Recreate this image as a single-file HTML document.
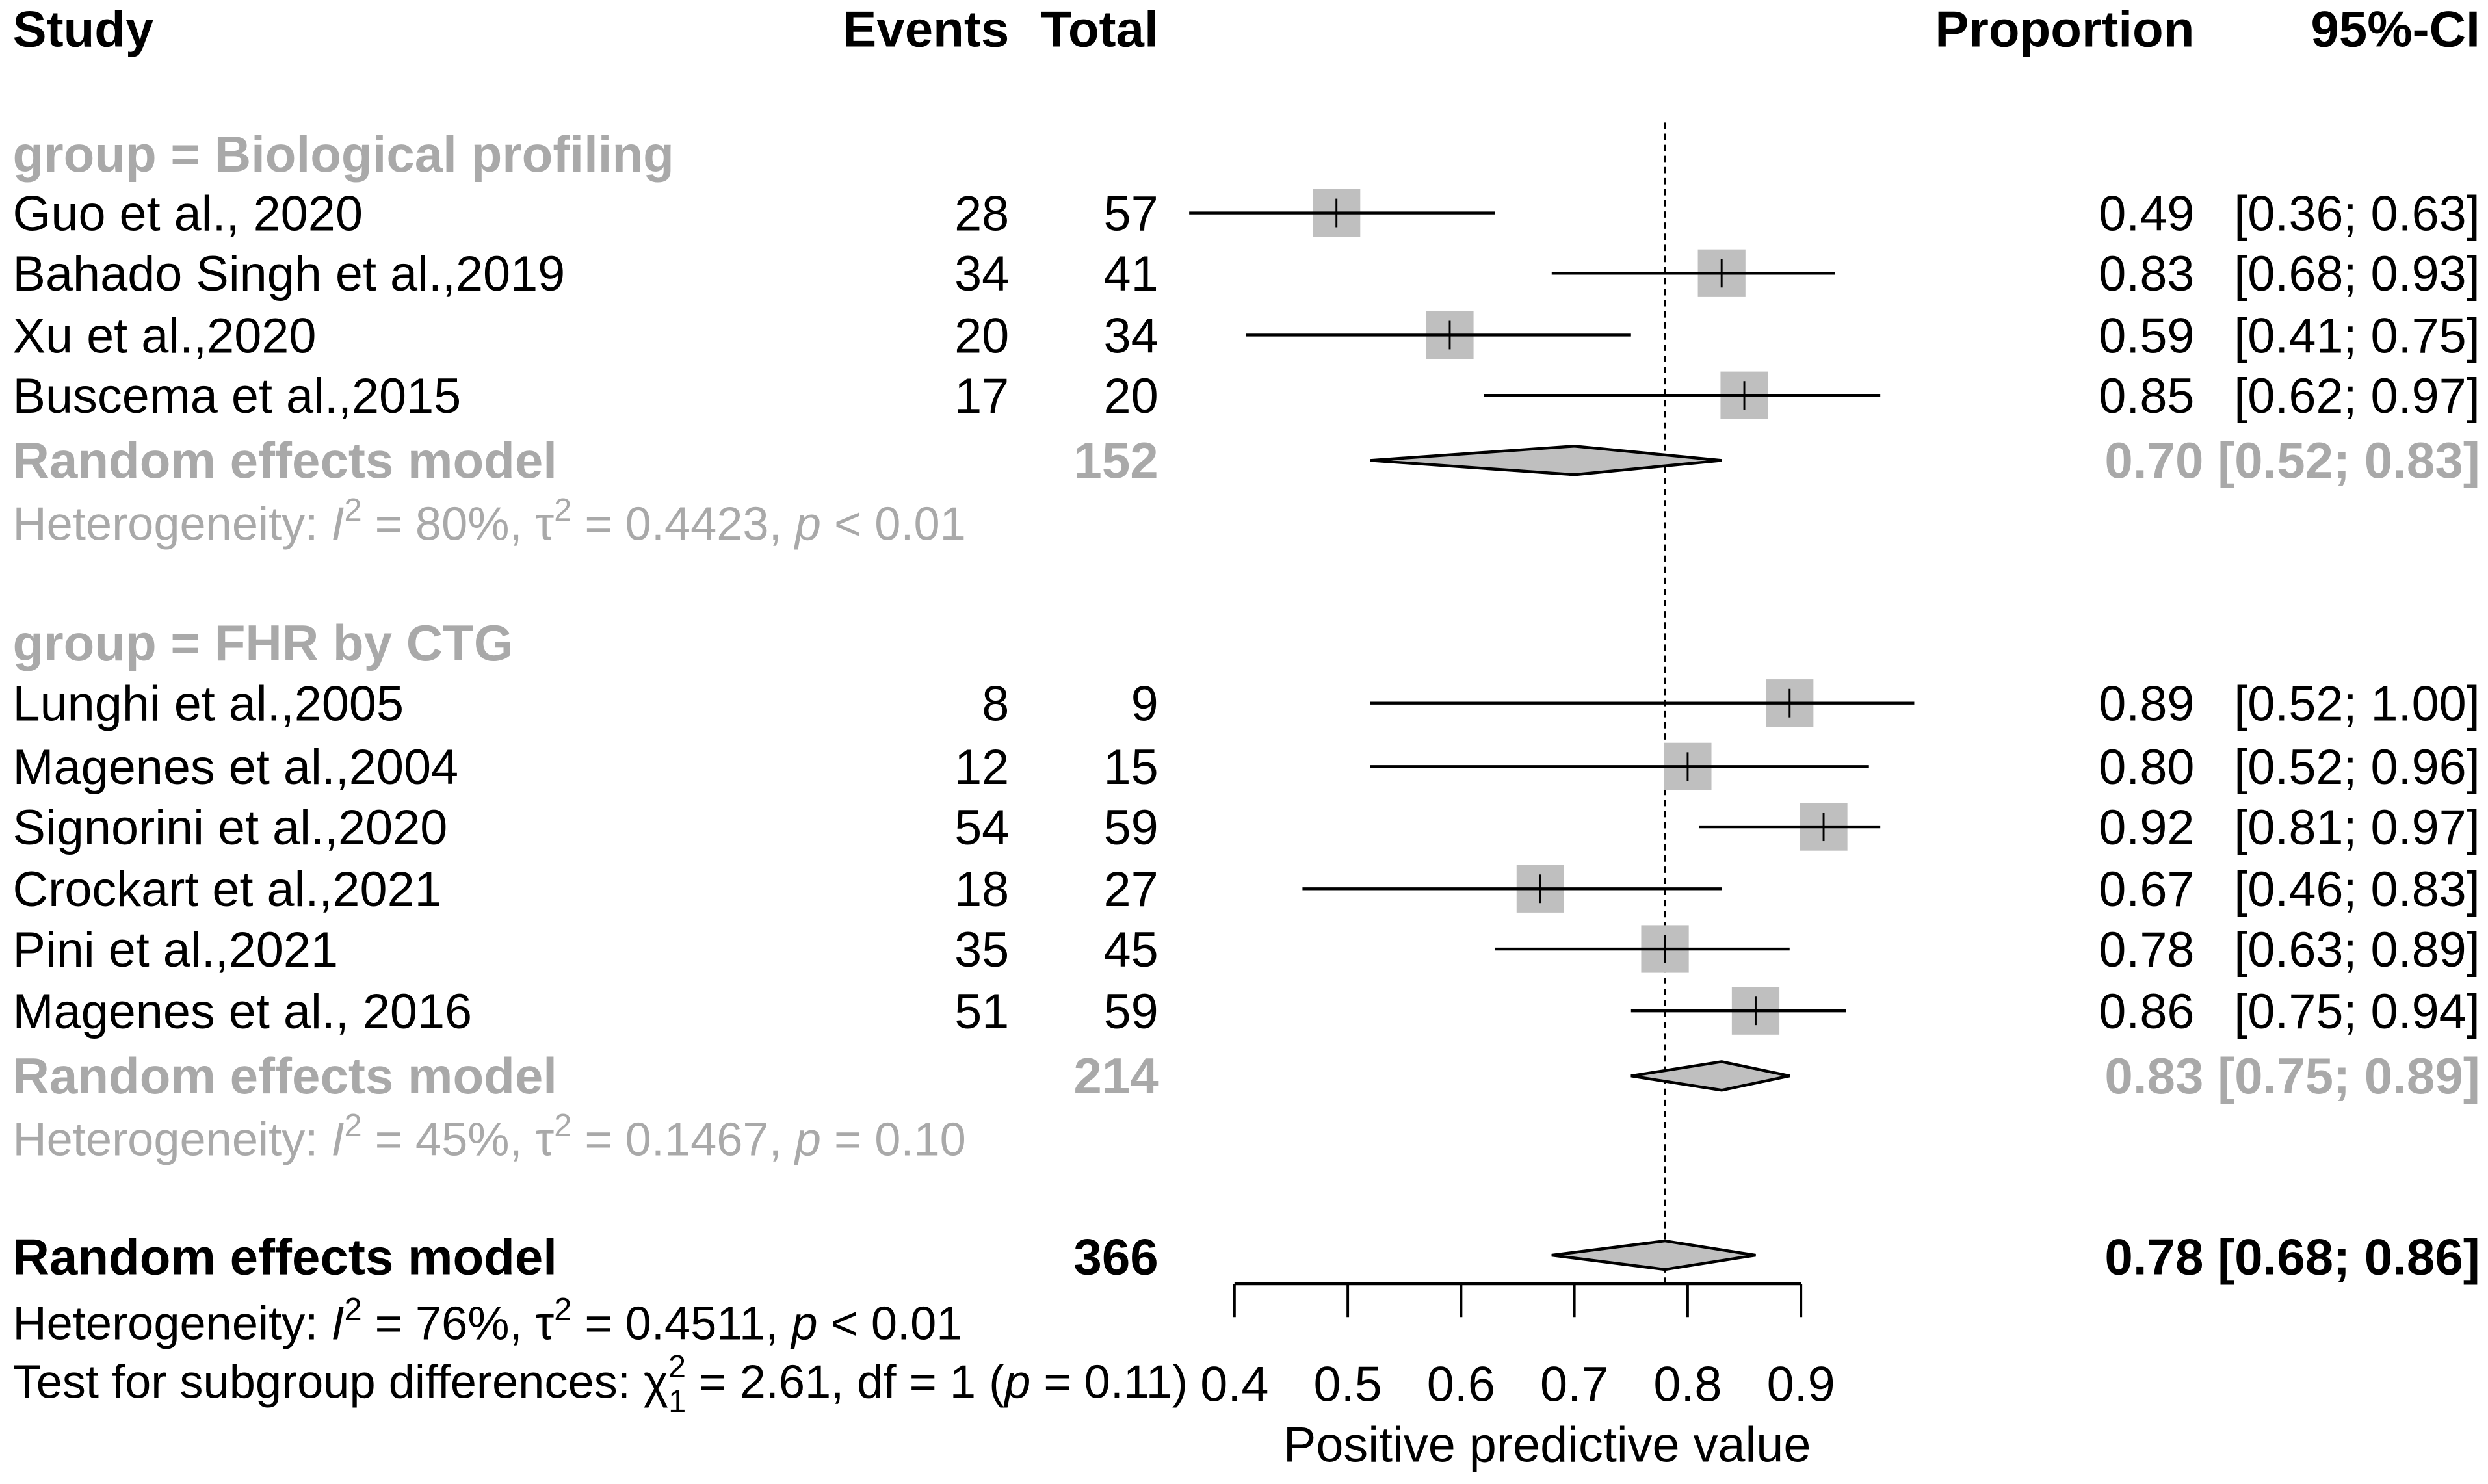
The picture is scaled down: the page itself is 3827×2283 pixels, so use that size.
<!DOCTYPE html>
<html><head><meta charset="utf-8"><style>
html,body{margin:0;padding:0;background:#fff}
svg{display:block}
text{font-family:"Liberation Sans",Arial,sans-serif;font-size:31px}
.b{font-weight:bold;font-size:32px}
.g{fill:#a9a9a9}
.h{font-size:29.6px}
</style></head><body>
<svg id="chart" width="3827" height="2283" viewBox="0 0 1568 935" xmlns="http://www.w3.org/2000/svg">
<g>
<text class="b" x="8" y="29">Study</text>
<text class="b" x="636" y="29" text-anchor="end">Events</text>
<text class="b" x="730" y="29" text-anchor="end">Total</text>
<text class="b" x="1383" y="29" text-anchor="end">Proportion</text>
<text class="b" x="1563" y="29" text-anchor="end">95%-CI</text>
</g>
<text class="b g" x="8" y="108">group = Biological profiling</text>
<text class="b g" x="8" y="416">group = FHR by CTG</text>
<text class="b g" x="8" y="301">Random effects model</text>
<text class="b g" x="730" y="301" text-anchor="end">152</text>
<text class="b g" x="1563" y="301" text-anchor="end" xml:space="preserve">0.70 [0.52; 0.83]</text>
<text class="g h" x="8" y="340">Heterogeneity: <tspan font-style="italic">I</tspan><tspan font-size="20" dy="-12">2</tspan><tspan dy="12"> = 80%, τ</tspan><tspan font-size="20" dy="-12">2</tspan><tspan dy="12"> = 0.4423, </tspan><tspan font-style="italic">p</tspan> &lt; 0.01</text>
<text class="b g" x="8" y="689">Random effects model</text>
<text class="b g" x="730" y="689" text-anchor="end">214</text>
<text class="b g" x="1563" y="689" text-anchor="end" xml:space="preserve">0.83 [0.75; 0.89]</text>
<text class="g h" x="8" y="728">Heterogeneity: <tspan font-style="italic">I</tspan><tspan font-size="20" dy="-12">2</tspan><tspan dy="12"> = 45%, τ</tspan><tspan font-size="20" dy="-12">2</tspan><tspan dy="12"> = 0.1467, </tspan><tspan font-style="italic">p</tspan> = 0.10</text>
<text class="b" x="8" y="803">Random effects model</text>
<text class="b" x="730" y="803" text-anchor="end">366</text>
<text class="b" x="1563" y="803" text-anchor="end" xml:space="preserve">0.78 [0.68; 0.86]</text>
<text class="h" x="8" y="844">Heterogeneity: <tspan font-style="italic">I</tspan><tspan font-size="20" dy="-12">2</tspan><tspan dy="12"> = 76%, τ</tspan><tspan font-size="20" dy="-12">2</tspan><tspan dy="12"> = 0.4511, </tspan><tspan font-style="italic">p</tspan> &lt; 0.01</text>
<text class="h" x="8" y="881">Test for subgroup differences: χ<tspan font-size="20" dy="-13">2</tspan><tspan font-size="20" dx="-11" dy="22">1</tspan><tspan dy="-9"> = 2.61, df = 1 (</tspan><tspan font-style="italic">p</tspan> = 0.11)</text>
<g id="marks"></g>
<text x="975" y="921" text-anchor="middle">Positive predictive value</text>
</svg>
<script>
const studies = ["Guo et al., 2020","Bahado Singh et al.,2019","Xu et al.,2020","Buscema et al.,2015","Lunghi et al.,2005","Magenes et al.,2004","Signorini et al.,2020","Crockart et al.,2021","Pini et al.,2021","Magenes et al., 2016"];
const events = [28,34,20,17,8,12,54,18,35,51];
const totals = [57,41,34,20,9,15,59,27,45,59];
const est = [0.49,0.83,0.59,0.85,0.89,0.80,0.92,0.67,0.78,0.86];
const lower = [0.36,0.68,0.41,0.62,0.52,0.52,0.81,0.46,0.63,0.75];
const upper = [0.63,0.93,0.75,0.97,1.00,0.96,0.97,0.83,0.89,0.94];
const pooledEst = [0.70,0.83,0.78];
const pooledLow = [0.52,0.75,0.68];
const pooledUp = [0.83,0.89,0.86];
const ticks = [0.4,0.5,0.6,0.7,0.8,0.9];
const tickLabels = ["0.4","0.5","0.6","0.7","0.8","0.9"];

const NS = "http://www.w3.org/2000/svg";
const g = document.getElementById('marks');
const x = v => 778 + (v - 0.4) * 714;
const rowY = [134,172,211,249,443,483,521,560,598,637];
const poolY = [290,678,791];
function el(tag, attrs){const e=document.createElementNS(NS,tag);for(const k in attrs)e.setAttribute(k,attrs[k]);g.appendChild(e);return e;}
const f2 = v => v.toFixed(2);

const ref = el('line',{x1:x(pooledEst[2]),x2:x(pooledEst[2]),y1:77,y2:808,stroke:'#000','stroke-width':1.3,'stroke-dasharray':'4 3'});



studies.forEach((s,i)=>{
  const y=rowY[i];
  const t=el('text',{x:8,y:y+11}); t.textContent=s;
  
  
  const e=el('text',{x:636,y:y+11,'text-anchor':'end'}); e.textContent=events[i];
  
  
  const n=el('text',{x:730,y:y+11,'text-anchor':'end'}); n.textContent=totals[i];
  
  
  const p=el('text',{x:1383,y:y+11,'text-anchor':'end'}); p.textContent=f2(est[i]);
  
  
  const c=el('text',{x:1563,y:y+11,'text-anchor':'end'}); c.textContent='['+f2(lower[i])+'; '+f2(upper[i])+']';
  
  
  const sz = 30;
  const sq=el('rect',{x:x(est[i])-sz/2,y:y-sz/2,width:sz,height:sz,fill:'#bfbfbf'});
  
  
  const ln=el('line',{x1:x(lower[i]),x2:x(upper[i]),y1:y,y2:y,stroke:'#000','stroke-width':1.8});
  
  
  const tk=el('line',{x1:x(est[i]),x2:x(est[i]),y1:y-9,y2:y+9,stroke:'#000','stroke-width':1.2});
  
  
});

pooledEst.forEach((v,i)=>{
  const y=poolY[i];
  const d=el('polygon',{points:`${x(pooledLow[i])},${y} ${x(v)},${y-9} ${x(pooledUp[i])},${y} ${x(v)},${y+9}`,fill:'#bfbfbf',stroke:'#000','stroke-width':1.8});
  
  
});

const ax=el('line',{x1:x(ticks[0]),x2:x(ticks[ticks.length-1]),y1:809,y2:809,stroke:'#000','stroke-width':1.8});


ticks.forEach((v,i)=>{
  const t=el('line',{x1:x(v),x2:x(v),y1:809,y2:830,stroke:'#000','stroke-width':1.6});
  
  
  const l=el('text',{x:x(v),y:883,'text-anchor':'middle'}); l.textContent=tickLabels[i];
  
  
});
</script>
</body></html>
